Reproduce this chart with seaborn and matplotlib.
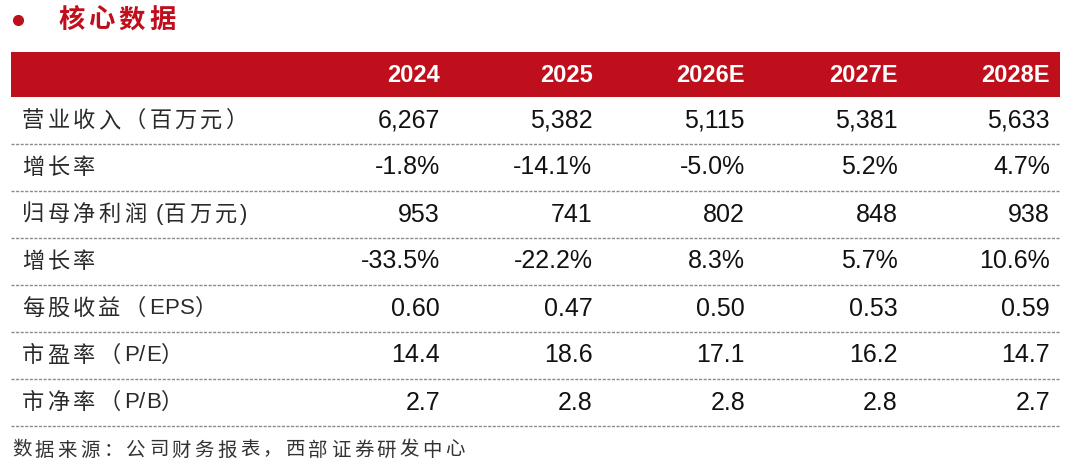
import numpy as np
import pandas as pd
import matplotlib
matplotlib.use("Agg")
import matplotlib.pyplot as plt
import seaborn as sns

sns.set_theme(style="white")
plt.rcParams["font.family"] = ["Liberation Sans", "Noto Sans CJK SC", "DejaVu Sans"]

# data
years = ["2024", "2025", "2026E", "2027E", "2028E"]
row_labels = ["营业收入（百万元）", "增长率", "归母净利润 (百万元)", "增长率",
              "每股收益（EPS）", "市盈率（P/E）", "市净率（P/B）"]
revenue = ["6,267", "5,382", "5,115", "5,381", "5,633"]
revenue_growth = ["-1.8%", "-14.1%", "-5.0%", "5.2%", "4.7%"]
net_profit = ["953", "741", "802", "848", "938"]
profit_growth = ["-33.5%", "-22.2%", "8.3%", "5.7%", "10.6%"]
eps = ["0.60", "0.47", "0.50", "0.53", "0.59"]
pe = ["14.4", "18.6", "17.1", "16.2", "14.7"]
pb = ["2.7", "2.8", "2.8", "2.8", "2.7"]

title = "核心数据"
source = "数据来源：公司财务报表，西部证券研发中心"

table = pd.DataFrame([revenue, revenue_growth, net_profit, profit_growth, eps, pe, pb],
                     index=row_labels, columns=years)

RED = "#C00F1C"
CJK = ["Noto Sans CJK SC", "DejaVu Sans"]

fig = plt.figure(figsize=(10.8, 4.72), dpi=100)
ax = fig.add_axes([0, 0, 1, 1])
ax.set_xlim(0, 1080)
ax.set_ylim(472, 0)
ax.axis("off")
renderer = fig.canvas.get_renderer()


def spaced_text(x, y, s, tracking, **kw):
    # CJK text in the report is letter-spaced; draw char by char
    for ch in s:
        if ch == " ":
            x += tracking * 2
            continue
        fam = CJK if ord(ch) > 0x2000 else ["Liberation Sans"]
        t = ax.text(x, y, ch, family=fam, ha="left", va="center", **kw)
        bb = t.get_window_extent(renderer)
        x = bb.x1 + (tracking if ord(ch) > 0x2000 else 0.5)


# title
ax.plot([18], [20], "o", color=RED, markersize=7)
spaced_text(58, 20, title, 4, color=RED, fontsize=19, fontweight="bold")

# header band
left, right = 11, 1060
top, head_h, row_h = 52, 45, 47
ax.add_patch(plt.Rectangle((left, top), right - left, head_h, color=RED, lw=0))
col_right = [440 + 152.5 * i for i in range(len(years))]
for x, yr in zip(col_right, table.columns):
    ax.text(x, top + head_h / 2 + 1, yr, color="white", fontsize=17,
            fontweight="bold", ha="right", va="center")

# rows
y0 = top + head_h
for i, (label, row) in enumerate(table.iterrows()):
    yc = y0 + row_h * (i + 0.5)
    spaced_text(22, yc, label, 3.2, fontsize=16, color="#2a2a2a")
    for x, val in zip(col_right, row.values):
        ax.text(x, yc, val, fontsize=18, color="#111111", ha="right", va="center")
    yl = y0 + row_h * (i + 1)
    ax.plot([left, right], [yl, yl], color="#8a8a8a", lw=1.0,
            linestyle=(0, (2.2, 1.1)))

# source
spaced_text(12, 450, source, 3.3, fontsize=14, color="#333333")

fig.savefig("out.png", dpi=100)
